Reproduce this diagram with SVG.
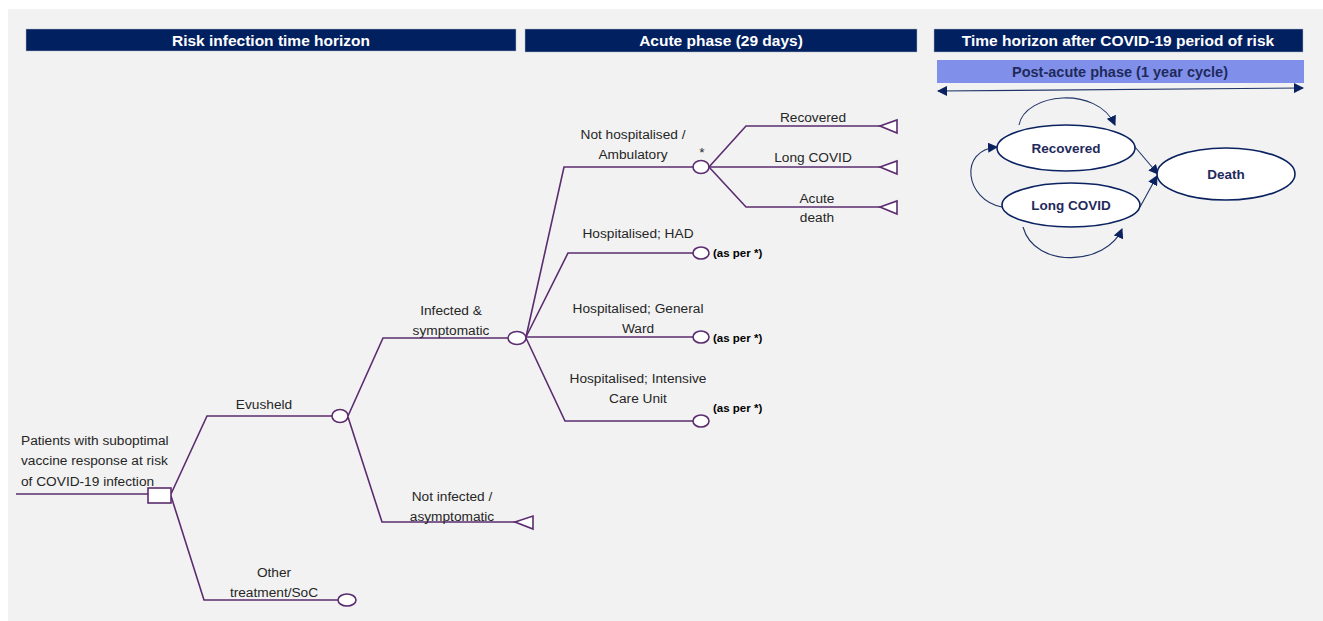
<svg xmlns="http://www.w3.org/2000/svg" width="1323" height="621" viewBox="0 0 1323 621">
<defs>
<style>
.hdr{fill:#002060;stroke:#b0b8c8;stroke-width:0.5}
.ht{font-family:"Liberation Sans",Arial,sans-serif;font-weight:bold;font-size:15.5px;fill:#ffffff;text-anchor:middle}
.br{fill:none;stroke:#5b2c6f;stroke-width:1.6}
.nd{fill:#ffffff;stroke:#5b2c6f;stroke-width:1.6}
.lb{font-family:"Liberation Sans",Arial,sans-serif;font-size:13.7px;fill:#262626;text-anchor:middle}
.lbl{font-family:"Liberation Sans",Arial,sans-serif;font-size:13.7px;fill:#262626}
.ap{font-family:"Liberation Sans",Arial,sans-serif;font-size:11.5px;font-weight:bold;fill:#000000}
.st{fill:#ffffff;stroke:#0b2260;stroke-width:1.6}
.stt{font-family:"Liberation Sans",Arial,sans-serif;font-weight:bold;font-size:13.5px;fill:#1f2a5c;text-anchor:middle}
.ar{fill:none;stroke:#1f3468;stroke-width:1.1}
</style>
<marker id="ah" viewBox="0 0 10 10" refX="9" refY="5" markerWidth="10" markerHeight="10" orient="auto-start-reverse" markerUnits="userSpaceOnUse">
<path d="M0,0 L10,5 L0,10 z" fill="#0b2260"/>
</marker>
</defs>
<rect x="0" y="0" width="1323" height="621" fill="#ffffff"/>
<rect x="8" y="9" width="1315" height="612" fill="#f2f2f2"/>

<g id="headers">
<rect class="hdr" x="26" y="29" width="490" height="22"/>
<text class="ht" x="271" y="46">Risk infection time horizon</text>
<rect class="hdr" x="525" y="29" width="392" height="23"/>
<text class="ht" x="721" y="46">Acute phase (29 days)</text>
<rect class="hdr" x="934" y="29" width="369" height="23"/>
<text class="ht" x="1118" y="46">Time horizon after COVID-19 period of risk</text>
<rect x="937" y="60" width="367" height="23" fill="#8090ea"/>
<text x="1120" y="77" font-family="Liberation Sans, Arial, sans-serif" font-size="14.5px" font-weight="bold" fill="#1f2a5c" text-anchor="middle">Post-acute phase (1 year cycle)</text>
</g>

<g id="connectors">
<path class="br" d="M16,494 H148"/>
<path class="br" d="M171,494 L207,416 H332"/>
<path class="br" d="M171,496 L204,600 H338"/>
<path class="br" d="M348,416 L383,338 H508"/>
<path class="br" d="M348,417 L382,522 H515"/>
<path class="br" d="M526,337 L564,167 H693"/>
<path class="br" d="M526,337 L568,253 H693"/>
<path class="br" d="M526,337 H693"/>
<path class="br" d="M526,338 L565,421 H693"/>
<path class="br" d="M709,167 L746,126 H880"/>
<path class="br" d="M709,167 H880"/>
<path class="br" d="M709,167 L746,207 H880"/>
<path class="ar" d="M938,91 L1303,88" marker-start="url(#ah)" marker-end="url(#ah)"/>
<path class="ar" d="M1019,125 C1025,93 1097,85 1115,125" marker-end="url(#ah)"/>
<path class="ar" d="M1002,207 C965,200 958,150 997,147" marker-end="url(#ah)"/>
<path class="ar" d="M1023,227 C1035,270 1107,265 1122,229" marker-end="url(#ah)"/>
<path class="ar" d="M1135,147 L1158,174" marker-end="url(#ah)"/>
<path class="ar" d="M1140,207 L1157,176" marker-end="url(#ah)"/>
</g>

<g id="root">
<rect class="nd" x="148" y="488" width="23" height="15"/>
<text class="lbl" x="21" y="445">Patients with suboptimal</text>
<text class="lbl" x="21" y="465">vaccine response at risk</text>
<text class="lbl" x="21" y="486">of COVID-19 infection</text>
</g>

<g id="evusheld">
<ellipse class="nd" cx="340" cy="416" rx="8" ry="6.5"/>
<text class="lb" x="264" y="409">Evusheld</text>
</g>

<g id="other">
<ellipse class="nd" cx="347" cy="600" rx="9" ry="6"/>
<text class="lb" x="274" y="577">Other</text>
<text class="lb" x="274" y="597">treatment/SoC</text>
</g>

<g id="infected">
<ellipse class="nd" cx="517" cy="338" rx="9" ry="6.5"/>
<text class="lb" x="451" y="315">Infected &amp;</text>
<text class="lb" x="451" y="335">symptomatic</text>
</g>

<g id="notinfected">
<path class="nd" d="M515,522 L533,516 L533,529 z"/>
<text class="lb" x="452" y="501">Not infected /</text>
<text class="lb" x="452" y="521">asymptomatic</text>
</g>

<g id="ambulatory">
<ellipse class="nd" cx="701" cy="167" rx="8" ry="6.5"/>
<text class="lb" x="633" y="139">Not hospitalised /</text>
<text class="lb" x="633" y="159">Ambulatory</text>
<text class="lb" x="702" y="157">*</text>
</g>

<g id="recovered-leaf">
<path class="nd" d="M880,126 L897,120 L897,133 z"/>
<text class="lb" x="813" y="122">Recovered</text>
</g>
<g id="longcovid-leaf">
<path class="nd" d="M880,167 L897,161 L897,174 z"/>
<text class="lb" x="813" y="162">Long COVID</text>
</g>
<g id="acutedeath-leaf">
<path class="nd" d="M880,207 L897,201 L897,214 z"/>
<text class="lb" x="817" y="203">Acute</text>
<text class="lb" x="817" y="222">death</text>
</g>

<g id="had">
<ellipse class="nd" cx="701" cy="253" rx="8" ry="6"/>
<text class="lb" x="638" y="238">Hospitalised; HAD</text>
<text class="ap" x="713" y="257">(as per *)</text>
</g>
<g id="ward">
<ellipse class="nd" cx="701" cy="337" rx="8" ry="6"/>
<text class="lb" x="638" y="313">Hospitalised; General</text>
<text class="lb" x="638" y="333">Ward</text>
<text class="ap" x="713" y="342">(as per *)</text>
</g>
<g id="icu">
<ellipse class="nd" cx="701" cy="421" rx="8" ry="6"/>
<text class="lb" x="638" y="383">Hospitalised; Intensive</text>
<text class="lb" x="638" y="403">Care Unit</text>
<text class="ap" x="713" y="412">(as per *)</text>
</g>

<g id="state-recovered">
<ellipse class="st" cx="1066" cy="148" rx="69" ry="23"/>
<text class="stt" x="1066" y="153">Recovered</text>
</g>
<g id="state-longcovid">
<ellipse class="st" cx="1071" cy="205" rx="69" ry="22"/>
<text class="stt" x="1071" y="210">Long COVID</text>
</g>
<g id="state-death">
<ellipse class="st" cx="1226" cy="174" rx="69" ry="26"/>
<text class="stt" x="1226" y="179">Death</text>
</g>
</svg>
